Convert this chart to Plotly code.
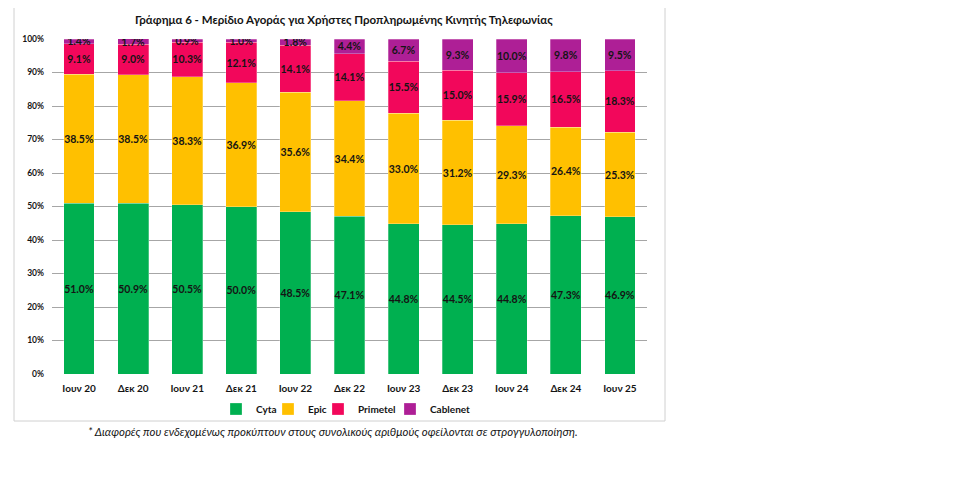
import plotly.graph_objects as go

categories = ["Ιουν 20", "Δεκ 20", "Ιουν 21", "Δεκ 21", "Ιουν 22", "Δεκ 22",
              "Ιουν 23", "Δεκ 23", "Ιουν 24", "Δεκ 24", "Ιουν 25"]
cyta = [51.0, 50.9, 50.5, 50.0, 48.5, 47.1, 44.8, 44.5, 44.8, 47.3, 46.9]
epic = [38.5, 38.5, 38.3, 36.9, 35.6, 34.4, 33.0, 31.2, 29.3, 26.4, 25.3]
primetel = [9.1, 9.0, 10.3, 12.1, 14.1, 14.1, 15.5, 15.0, 15.9, 16.5, 18.3]
cablenet = [1.4, 1.7, 0.9, 1.0, 1.8, 4.4, 6.7, 9.3, 10.0, 9.8, 9.5]
y_ticks = [0, 10, 20, 30, 40, 50, 60, 70, 80, 90, 100]
y_labels = [f"{v}%" for v in y_ticks]

FONT = "Lato, Noto Sans, sans-serif"
INK = "#141414"
series = [("Cyta", cyta, "#00B050"), ("Epic", epic, "#FFC000"),
          ("Primetel", primetel, "#F2075B"), ("Cablenet", cablenet, "#AE1F96")]

# page offset (body margin) compensation
O = 8
W, H = 979, 497
# desired plot area in screen pixels
SX0, SX1, SY0, SY1 = 52, 647, 39, 374
L, R, T, B = SX0 - O, W - (SX1 - O), SY0 - O, H - (SY1 - O)
pw, ph = W - L - R, H - T - B


def px(x):
    return (x - O - L) / pw


def py(y):
    return (H - B - (y - O)) / ph


legend_names = ["legend", "legend2", "legend3", "legend4"]
legend_marker_x = [236, 288, 338, 410]

fig = go.Figure()
for i, (name, vals, col) in enumerate(series):
    fig.add_trace(go.Bar(
        x=categories, y=vals, name=name, legend=legend_names[i],
        marker=dict(color=col, line=dict(color="rgba(255,255,255,0.45)", width=0.6)),
        texttemplate="%{y:.1f}%", textposition="inside", insidetextanchor="middle",
        textangle=0, constraintext="none",
        textfont=dict(family=FONT, size=10.5, color=INK, weight="bold"),
        width=0.57,
    ))

legends = {}
for i, ln in enumerate(legend_names):
    legends[ln] = dict(orientation="h", x=px(legend_marker_x[i] - 20), xanchor="left",
                       y=py(409), yanchor="middle", bgcolor="rgba(0,0,0,0)",
                       font=dict(family=FONT, size=10, color=INK, weight="bold"),
                       itemwidth=30)

fig.update_layout(
    barmode="stack",
    width=W, height=H,
    margin=dict(l=L, r=R, t=T, b=B),
    paper_bgcolor="white", plot_bgcolor="white",
    uniformtext=dict(minsize=10.5, mode="show"),
    showlegend=True,
    xaxis=dict(tickfont=dict(family=FONT, size=10, color=INK, weight="bold"),
               showgrid=False, ticks="", showline=False, range=[-0.5, 10.5],
               ticklabelstandoff=7),
    yaxis=dict(range=[0, 100], tickvals=y_ticks, ticktext=y_labels,
               tickfont=dict(family=FONT, size=8.5, color=INK, weight="bold"),
               showgrid=True, gridcolor="#A6A6A6", gridwidth=1, zeroline=False,
               showline=False, ticks="", ticklen=0, ticklabelstandoff=7),
    shapes=[dict(type="rect", xref="paper", yref="paper",
                 x0=px(14), x1=px(665), y0=py(421), y1=py(6),
                 line=dict(color="#D0D0D0", width=1), fillcolor="rgba(0,0,0,0)", layer="below")],
    annotations=[
        dict(text="Γράφημα 6 - Μερίδιο Αγοράς για Χρήστες Προπληρωμένης Κινητής Τηλεφωνίας",
             xref="paper", yref="paper", x=px(344), y=py(19), showarrow=False,
             xanchor="center", yanchor="middle",
             font=dict(family=FONT, size=11.5, color=INK, weight="bold")),
        dict(text="<i>* Διαφορές που ενδεχομένως προκύπτουν στους συνολικούς αριθμούς οφείλονται σε στρογγυλοποίηση.</i>",
             xref="paper", yref="paper", x=px(333), y=py(431), showarrow=False,
             xanchor="center", yanchor="middle",
             font=dict(family=FONT, size=11.4, color=INK)),
    ],
    **legends,
)

fig.write_html("out.html")
